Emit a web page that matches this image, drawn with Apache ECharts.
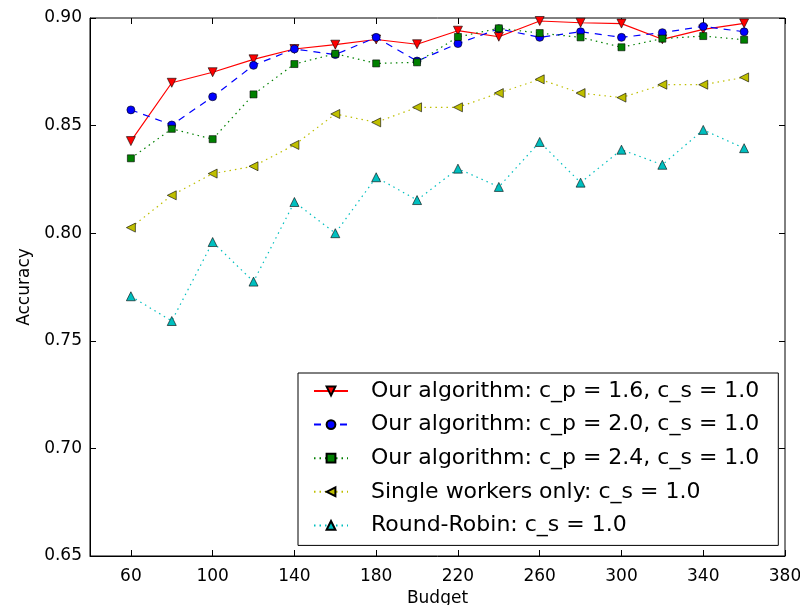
<!DOCTYPE html>
<html>
<head>
<meta charset="utf-8">
<script src="https://cdn.jsdelivr.net/npm/echarts@6/dist/echarts.min.js"></script>
<style>
  html, body { margin: 0; padding: 0; background: #fff; }
  #chart { width: 800px; height: 605px; }
</style>
</head>
<body>
<div id="chart"></div>
<script>
// budgets on the x axis
var budgets = [60, 80, 100, 120, 140, 160, 180, 200, 220, 240, 260, 280, 300, 320, 340, 360];
// accuracy for each method
var ourCp16 = [0.8428, 0.8699, 0.8748, 0.8808, 0.8856, 0.8876, 0.8900, 0.8878, 0.8941, 0.8913, 0.8986, 0.8978, 0.8974, 0.8901, 0.8947, 0.8975];
var ourCp20 = [0.8573, 0.8503, 0.8634, 0.8780, 0.8856, 0.8830, 0.8910, 0.8800, 0.8881, 0.8950, 0.8910, 0.8936, 0.8910, 0.8932, 0.8961, 0.8936];
var ourCp24 = [0.8348, 0.8485, 0.8437, 0.8645, 0.8786, 0.8834, 0.8789, 0.8794, 0.8912, 0.8952, 0.8930, 0.8910, 0.8864, 0.8904, 0.8916, 0.8899];
var singleOnly = [0.8026, 0.8176, 0.8277, 0.8311, 0.8410, 0.8554, 0.8515, 0.8585, 0.8585, 0.8651, 0.8715, 0.8651, 0.8630, 0.8690, 0.8690, 0.8724];
var roundRobin = [0.7707, 0.7592, 0.7959, 0.7775, 0.8145, 0.8000, 0.8260, 0.8154, 0.8300, 0.8215, 0.8424, 0.8235, 0.8388, 0.8318, 0.8480, 0.8395];
// tick labels
var xTicks = [60, 100, 140, 180, 220, 260, 300, 340, 380];
var seriesNames = [
  'Our algorithm: c_p = 1.6, c_s = 1.0',
  'Our algorithm: c_p = 2.0, c_s = 1.0',
  'Our algorithm: c_p = 2.4, c_s = 1.0',
  'Single workers only: c_s = 1.0',
  'Round-Robin: c_s = 1.0'
];

function pairs(vals) {
  return budgets.map(function (b, i) { return [b, vals[i]]; });
}

var font = 'DejaVu Sans';
var chart = echarts.init(document.getElementById('chart'));

function mkSeries(name, vals, color, lineType, symbol, size, rotate) {
  return {
    name: name,
    type: 'line',
    data: pairs(vals),
    symbol: symbol,
    symbolSize: size,
    symbolRotate: rotate || 0,
    showAllSymbol: true,
    lineStyle: { color: color, width: 1.2, type: lineType },
    itemStyle: { color: color, borderColor: '#000', borderWidth: 0.6 },
    emphasis: { disabled: true }
  };
}

var tickCommon = { inside: true, length: 6, lineStyle: { color: '#000', width: 1 } };

var option = {
  animation: false,
  backgroundColor: '#fff',
  grid: {
    left: 90, right: 15, top: 18, bottom: 49,
    outerBoundsMode: 'none',
    show: true, borderColor: '#000', borderWidth: 1, backgroundColor: 'transparent'
  },
  legend: {
    orient: 'vertical',
    left: 298,
    top: 373,
    padding: [7, 19, 9, 15],
    itemGap: 11.6,
    itemWidth: 34,
    itemHeight: 11,
    backgroundColor: '#fff',
    borderColor: '#000',
    borderWidth: 1,
    textStyle: { fontFamily: font, fontSize: 22, color: '#000', padding: [0, 0, 0, 18] },
    data: seriesNames
  },
  xAxis: [{
    type: 'value',
    min: 40, max: 380, interval: 40,
    name: 'Budget', nameLocation: 'middle', nameGap: 31,
    nameTextStyle: { fontFamily: font, fontSize: 17, color: '#000' },
    axisLine: { show: true, lineStyle: { color: '#000' } },
    axisTick: Object.assign({ customValues: xTicks }, tickCommon),
    axisLabel: { customValues: xTicks, fontFamily: font, fontSize: 17, color: '#000', margin: 12 },
    splitLine: { show: false }
  }, {
    type: 'value', position: 'top',
    min: 40, max: 380, interval: 40,
    axisLine: { show: false },
    axisTick: Object.assign({ customValues: xTicks }, tickCommon),
    axisLabel: { show: false },
    splitLine: { show: false }
  }],
  yAxis: [{
    type: 'value',
    min: 0.65, max: 0.90, interval: 0.05,
    name: 'Accuracy', nameLocation: 'middle', nameGap: 56,
    nameTextStyle: { fontFamily: font, fontSize: 17, color: '#000' },
    axisLine: { show: true, lineStyle: { color: '#000' } },
    axisTick: tickCommon,
    axisLabel: { fontFamily: font, fontSize: 17, color: '#000', margin: 8, formatter: function (v) { return v.toFixed(2); } },
    splitLine: { show: false }
  }, {
    type: 'value', position: 'right',
    min: 0.65, max: 0.90, interval: 0.05,
    axisLine: { show: false },
    axisTick: tickCommon,
    axisLabel: { show: false },
    splitLine: { show: false }
  }],
  series: [
    mkSeries(seriesNames[0], ourCp16, '#ff0000', 'solid', 'triangle', 9, 180),
    mkSeries(seriesNames[1], ourCp20, '#0000ff', [7, 6], 'circle', 8),
    mkSeries(seriesNames[2], ourCp24, '#008000', [1.5, 4], 'rect', 7),
    mkSeries(seriesNames[3], singleOnly, '#bfbf00', [1.5, 4], 'triangle', 9, 90),
    mkSeries(seriesNames[4], roundRobin, '#00bfbf', [1.5, 4], 'triangle', 9)
  ]
};

chart.setOption(option);
</script>
</body>
</html>
